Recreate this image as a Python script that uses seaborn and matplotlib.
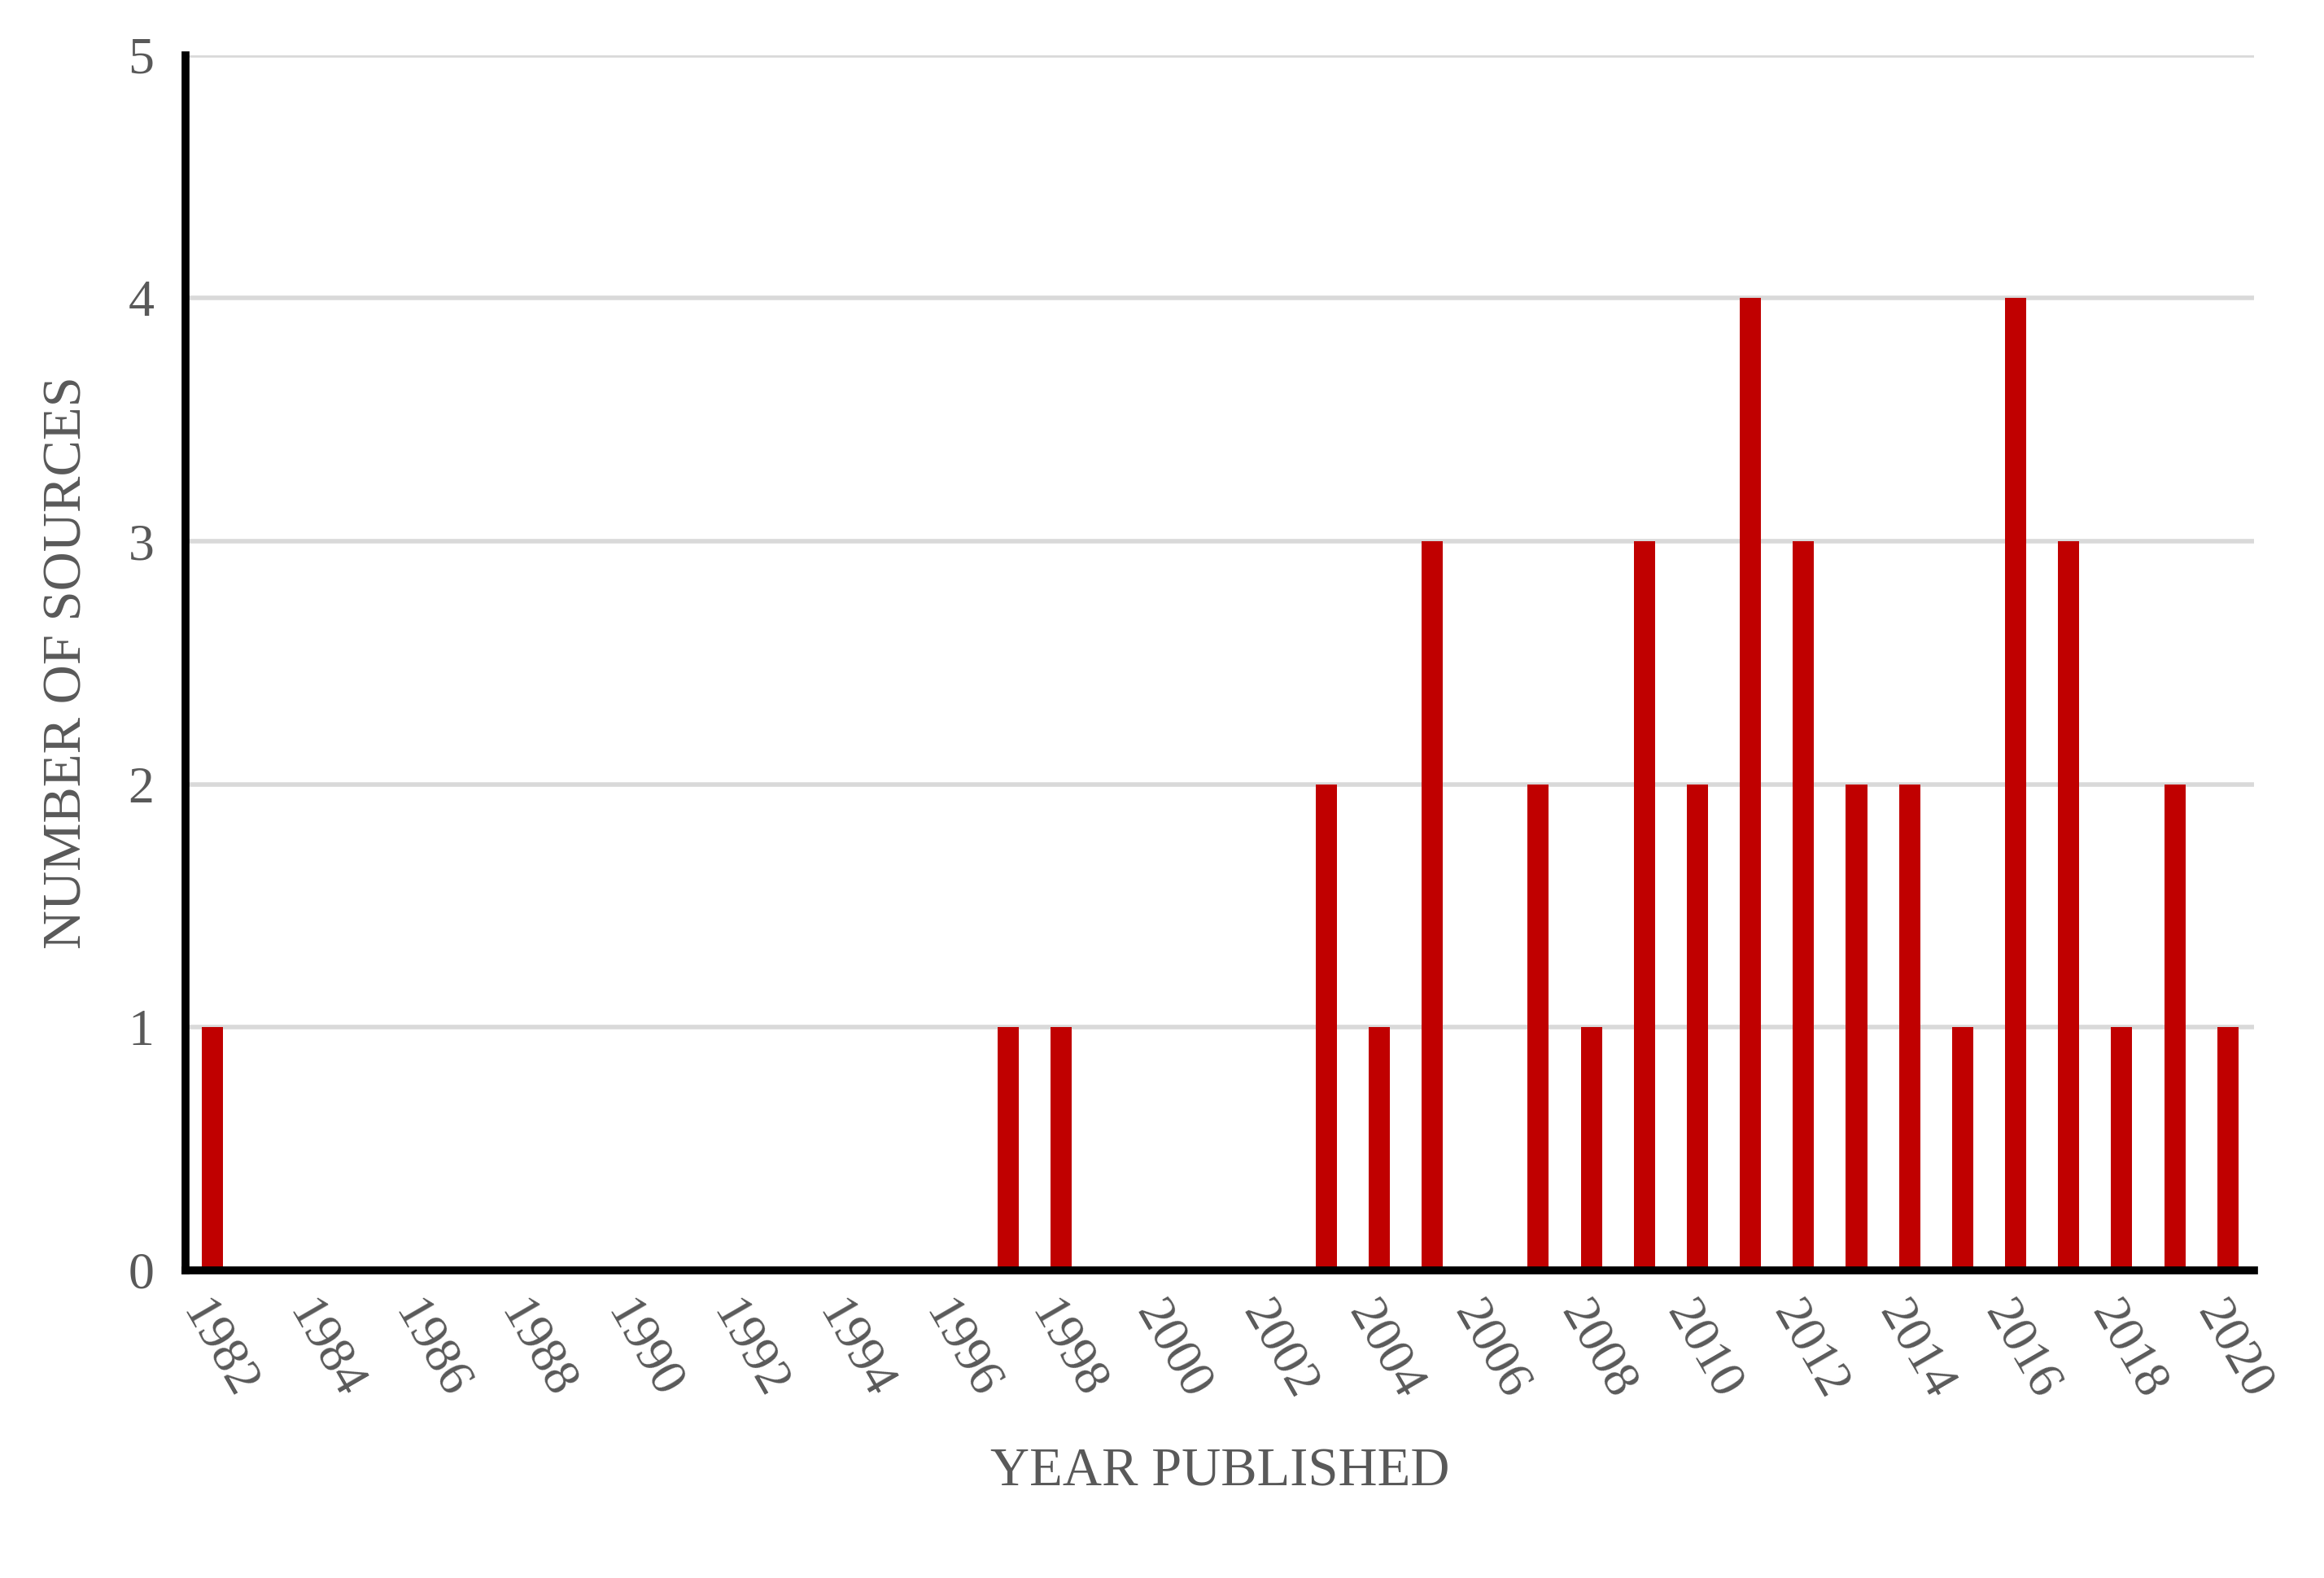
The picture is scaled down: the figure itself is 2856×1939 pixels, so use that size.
import pandas as pd
import matplotlib.pyplot as plt
import seaborn as sns

years = list(range(1982, 2021))
counts_by_year = {1982: 1, 1997: 1, 1998: 1, 2003: 2, 2004: 1, 2005: 3, 2007: 2,
                  2008: 1, 2009: 3, 2010: 2, 2011: 4, 2012: 3, 2013: 2, 2014: 2,
                  2015: 1, 2016: 4, 2017: 3, 2018: 1, 2019: 2, 2020: 1}
counts = [counts_by_year.get(y, 0) for y in years]

data = pd.DataFrame({'year': [str(y) for y in years], 'count': counts})

sns.set_style('white')
plt.rcParams['font.family'] = ['Liberation Serif', 'DejaVu Serif']

fig, ax = plt.subplots(figsize=(14.28, 9.695), dpi=200)
sns.barplot(data=data, x='year', y='count', color='#C00000', width=0.4,
            saturation=1, linewidth=0, ax=ax, zorder=3)

ax.set_ylim(0, 5)
ax.set_xlim(-0.5, len(years) - 0.5)
ax.set_yticks(range(6))
ax.yaxis.grid(True, color='#d9d9d9', linewidth=2, zorder=0)
ax.tick_params(axis='y', labelsize=23, labelcolor='#595959', length=0, pad=14)
ax.set_xticks(range(len(years)))
ax.set_xticklabels([str(y) if y % 2 == 0 else '' for y in years],
                   rotation=-60, ha='left', rotation_mode='anchor')
ax.tick_params(axis='x', labelsize=23, labelcolor='#595959', length=0, pad=10)

for side in ['top', 'right']:
    ax.spines[side].set_visible(False)
for side in ['left', 'bottom']:
    ax.spines[side].set_linewidth(3.5)
    ax.spines[side].set_color('black')
    ax.spines[side].set_zorder(4)

ax.set_xlabel('YEAR PUBLISHED', fontsize=24, color='#595959', labelpad=18)
ax.set_ylabel('NUMBER OF SOURCES', fontsize=24, color='#595959', labelpad=16)

plt.subplots_adjust(left=0.08, right=0.97, top=0.965, bottom=0.195)
plt.savefig('out.png', dpi=200)
